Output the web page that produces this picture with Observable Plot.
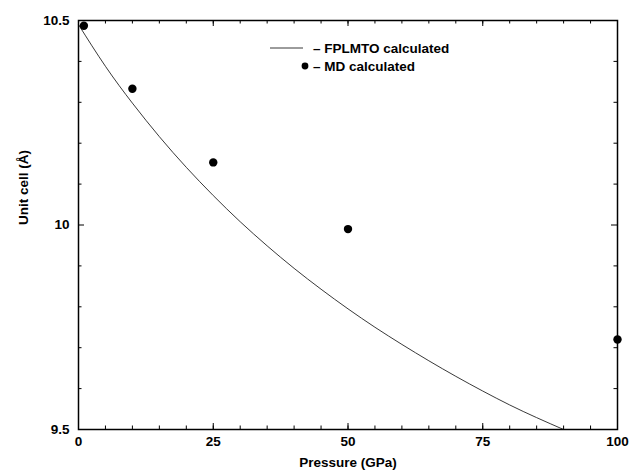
<!DOCTYPE html>
<html><head><meta charset="utf-8">
<script src="https://cdn.jsdelivr.net/npm/d3@7"></script>
<script src="https://cdn.jsdelivr.net/npm/@observablehq/plot@0.6"></script>
<style>
body{margin:0;background:#fff;}
#chart svg{font-family:"Liberation Sans",Arial,sans-serif;}
</style>
</head><body><div id="chart"></div>
<script>
// FPLMTO calculated curve
const curveP = [0,5,10,15,20,25,30,35,40,45,50,55,60,65,70,75,80,85,90];
const curveV = [10.490,10.388,10.298,10.216,10.141,10.072,10.008,9.949,9.894,9.843,9.795,9.750,9.708,9.668,9.630,9.594,9.560,9.529,9.500];
// MD calculated points
const mdP = [1,10,25,50,100];
const mdV = [10.487,10.333,10.153,9.99,9.72];
// ticks
const xMajor = [0,25,50,75,100];
const xMinor = d3.range(0,101,5);
const yMajor = [9.5,10,10.5];
const yMinor = [9.6,9.7,9.8,9.9,10.1,10.2,10.3,10.4];
const legendLabels = ["– FPLMTO calculated","– MD calculated"];

const W=632,H=470,mT=20,mB=41,mL=78,mR=15;
const fh=H-mT-mB, fw=W-mL-mR;
const curve = curveP.map((p,i)=>({p,v:curveV[i]}));
const md = mdP.map((p,i)=>({p,v:mdV[i]}));
const FS = 13.5;

const legendMark = (index, scales, values, dims) => {
  const g = d3.create("svg:g");
  g.append("line").attr("x1",270).attr("x2",303).attr("y1",48).attr("y2",48).attr("stroke","#222").attr("stroke-width",0.9);
  g.append("circle").attr("cx",305).attr("cy",66).attr("r",3.4).attr("fill","black");
  g.selectAll("text").data(legendLabels).join("text")
    .attr("x",313).attr("y",(d,i)=>48+i*18).attr("dy","0.35em")
    .attr("text-anchor","start").attr("font-weight","bold")
    .attr("font-size",FS).attr("fill","black").text(d=>d);
  return g.node();
};

const chart = Plot.plot({
  width: W, height: H,
  marginTop: mT, marginBottom: mB, marginLeft: mL, marginRight: mR,
  style: {fontFamily:"Liberation Sans, Arial, sans-serif", fontSize:FS+"px", fontWeight:"bold", color:"black", background:"white"},
  x: {domain:[0,100]},
  y: {domain:[9.5,10.5]},
  marks: [
    Plot.axisX(xMajor, {tickSize:0, tickPadding:7, label:null, fontSize:FS, tickFormat:d=>`${d}`}),
    Plot.axisY(yMajor, {tickSize:0, tickPadding:9, label:null, fontSize:FS, tickFormat:d=>`${d}`}),
    // inward ticks, bottom/top
    Plot.ruleX(xMinor, {x:d=>d, insetTop: fh-3.5, stroke:"black"}),
    Plot.ruleX(xMinor, {x:d=>d, insetBottom: fh-3.5, stroke:"black"}),
    Plot.ruleX(xMajor, {x:d=>d, insetTop: fh-6, stroke:"black"}),
    Plot.ruleX(xMajor, {x:d=>d, insetBottom: fh-6, stroke:"black"}),
    // inward ticks, left/right
    Plot.ruleY(yMinor, {y:d=>d, insetRight: fw-3.5, stroke:"black"}),
    Plot.ruleY(yMinor, {y:d=>d, insetLeft: fw-3.5, stroke:"black"}),
    Plot.ruleY(yMajor, {y:d=>d, insetRight: fw-6, stroke:"black"}),
    Plot.ruleY(yMajor, {y:d=>d, insetLeft: fw-6, stroke:"black"}),
    Plot.line(curve, {x:"p", y:"v", curve:"natural", stroke:"#222", strokeWidth:0.9}),
    Plot.dot(md, {x:"p", y:"v", r:4.2, fill:"black", stroke:null}),
    Plot.frame({stroke:"black", strokeWidth:1.5}),
    Plot.text(["Pressure (GPa)"], {frameAnchor:"bottom", dy:33, fontSize:FS, lineAnchor:"middle"}),
    Plot.text(["Unit cell (Å)"], {frameAnchor:"left", dx:-55, rotate:-90, fontSize:FS}),
    legendMark
  ]
});
document.getElementById("chart").appendChild(chart);
</script>
</body></html>
